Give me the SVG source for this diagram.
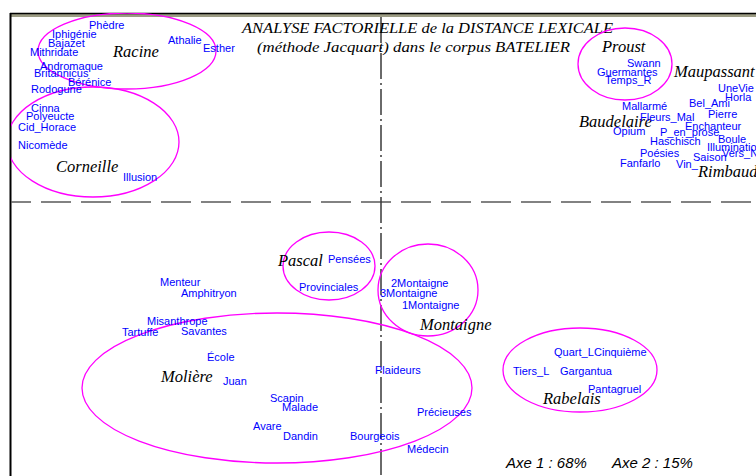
<svg xmlns="http://www.w3.org/2000/svg" width="756" height="476" viewBox="0 0 756 476">
  <style>
    .pt { font-family: "Liberation Sans", Arial, sans-serif; font-size: 11px; fill: #0000ff; }
    .grp { font-family: "Liberation Serif", "Times New Roman", serif; font-style: italic; font-size: 16.5px; fill: #000; }
    .title { font-family: "Liberation Serif", "Times New Roman", serif; font-style: italic; font-size: 15px; fill: #000; }
    .axe { font-family: "Liberation Sans", Arial, sans-serif; font-style: italic; font-size: 15px; fill: #000; }
    .zone { fill: none; stroke: #ff00ff; stroke-width: 1.3; }
  </style>
  <defs>
    <clipPath id="plot">
      <rect x="11" y="13" width="745" height="463"/>
    </clipPath>
  </defs>
  <rect width="756" height="476" fill="#fff"/>

  <!-- frame and factorial axes -->
  <g id="axes">
    <rect x="10" y="14" width="746" height="3" fill="#9c9c84"/>
    <line x1="10" y1="13.5" x2="756" y2="13.5" stroke="#000" stroke-width="1.5"/>
    <line x1="10.5" y1="13" x2="10.5" y2="476" stroke="#000" stroke-width="2"/>
    <line x1="11" y1="202" x2="756" y2="202" stroke="#5a5a5a" stroke-width="1.5" stroke-dasharray="30 10" stroke-dashoffset="10"/>
    <line x1="381" y1="17" x2="381" y2="476" stroke="#3a3a3a" stroke-width="1.5" stroke-dasharray="26 4 2 4"/>
  </g>

  <g id="titre">
    <text class="title" x="242" y="33" textLength="371" lengthAdjust="spacingAndGlyphs">ANALYSE FACTORIELLE de la DISTANCE LEXICALE</text>
    <text class="title" x="257" y="52" textLength="313" lengthAdjust="spacingAndGlyphs">(méthode Jacquart) dans le corpus BATELIER</text>
  </g>

  <g clip-path="url(#plot)">
    <g id="racine">
      <ellipse class="zone" cx="127" cy="51" rx="89" ry="38"/>
      <text class="grp" x="113" y="57">Racine</text>
      <text class="pt" x="89" y="29">Phèdre</text>
      <text class="pt" x="52" y="38">Iphigénie</text>
      <text class="pt" x="48" y="47">Bajazet</text>
      <text class="pt" x="30" y="56">Mithridate</text>
      <text class="pt" x="40" y="70">Andromaque</text>
      <text class="pt" x="34" y="77">Britannicus</text>
      <text class="pt" x="68" y="86">Bérénice</text>
      <text class="pt" x="168" y="44">Athalie</text>
      <text class="pt" x="203" y="52">Esther</text>
    </g>

    <g id="corneille">
      <ellipse class="zone" cx="93" cy="142" rx="86" ry="55"/>
      <text class="grp" x="56" y="172">Corneille</text>
      <text class="pt" x="31" y="93">Rodogune</text>
      <text class="pt" x="31" y="112">Cinna</text>
      <text class="pt" x="26" y="120">Polyeucte</text>
      <text class="pt" x="18" y="131">Cid_Horace</text>
      <text class="pt" x="18" y="149">Nicomède</text>
      <text class="pt" x="123" y="181">Illusion</text>
    </g>

    <g id="proust">
      <ellipse class="zone" cx="625" cy="64" rx="47" ry="36"/>
      <text class="grp" x="602" y="52">Proust</text>
      <text class="pt" x="627" y="67">Swann</text>
      <text class="pt" x="597" y="76">Guermantes</text>
      <text class="pt" x="605" y="84">Temps_R</text>
    </g>

    <g id="maupassant">
      <text class="grp" x="674" y="77">Maupassant</text>
      <text class="pt" x="718" y="92">UneVie</text>
      <text class="pt" x="725" y="101">Horla</text>
      <text class="pt" x="689" y="107">Bel_Ami</text>
      <text class="pt" x="708" y="118">Pierre</text>
      <text class="pt" x="718" y="143">Boule</text>
    </g>

    <g id="baudelaire">
      <text class="grp" x="579" y="127">Baudelaire</text>
      <text class="pt" x="622" y="110">Mallarmé</text>
      <text class="pt" x="640" y="121">Fleurs_Mal</text>
      <text class="pt" x="685" y="130">Enchanteur</text>
      <text class="pt" x="613" y="135">Opium</text>
      <text class="pt" x="660" y="136">P_en_prose</text>
      <text class="pt" x="650" y="145">Haschisch</text>
      <text class="pt" x="640" y="157">Poésies</text>
      <text class="pt" x="620" y="167">Fanfarlo</text>
      <text class="pt" x="676" y="168">Vin_</text>
    </g>

    <g id="rimbaud">
      <text class="grp" x="698" y="177">Rimbaud</text>
      <text class="pt" x="707" y="151">Illuminations</text>
      <text class="pt" x="722" y="157">Vers_N</text>
      <text class="pt" x="693" y="161">Saison</text>
    </g>

    <g id="pascal">
      <ellipse class="zone" cx="329" cy="266" rx="46" ry="34"/>
      <text class="grp" x="278" y="266">Pascal</text>
      <text class="pt" x="328" y="263">Pensées</text>
      <text class="pt" x="299" y="291">Provinciales</text>
    </g>

    <g id="montaigne">
      <ellipse class="zone" cx="428" cy="290" rx="50" ry="46"/>
      <text class="grp" x="420" y="330">Montaigne</text>
      <text class="pt" x="391" y="287">2Montaigne</text>
      <text class="pt" x="380" y="297">3Montaigne</text>
      <text class="pt" x="402" y="309">1Montaigne</text>
    </g>

    <g id="moliere">
      <ellipse class="zone" cx="277" cy="388" rx="195" ry="75"/>
      <text class="grp" x="161" y="382">Molière</text>
      <text class="pt" x="160" y="286">Menteur</text>
      <text class="pt" x="181" y="297">Amphitryon</text>
      <text class="pt" x="147" y="325">Misanthrope</text>
      <text class="pt" x="122" y="336">Tartuffe</text>
      <text class="pt" x="181" y="335">Savantes</text>
      <text class="pt" x="207" y="361">École</text>
      <text class="pt" x="223" y="385">Juan</text>
      <text class="pt" x="375" y="374">Plaideurs</text>
      <text class="pt" x="270" y="402">Scapin</text>
      <text class="pt" x="282" y="411">Malade</text>
      <text class="pt" x="417" y="416">Précieuses</text>
      <text class="pt" x="253" y="430">Avare</text>
      <text class="pt" x="283" y="440">Dandin</text>
      <text class="pt" x="350" y="440">Bourgeois</text>
      <text class="pt" x="407" y="453">Médecin</text>
    </g>

    <g id="rabelais">
      <ellipse class="zone" cx="580" cy="370" rx="77" ry="42"/>
      <text class="grp" x="543" y="404">Rabelais</text>
      <text class="pt" x="554" y="356">Quart_L</text>
      <text class="pt" x="594" y="356">Cinquième</text>
      <text class="pt" x="513" y="375">Tiers_L</text>
      <text class="pt" x="560" y="375">Gargantua</text>
      <text class="pt" x="588" y="393">Pantagruel</text>
    </g>
  </g>

  <g id="inertie">
    <text class="axe" x="506" y="468">Axe 1 :  68%</text>
    <text class="axe" x="612" y="468">Axe 2 :  15%</text>
  </g>
</svg>
